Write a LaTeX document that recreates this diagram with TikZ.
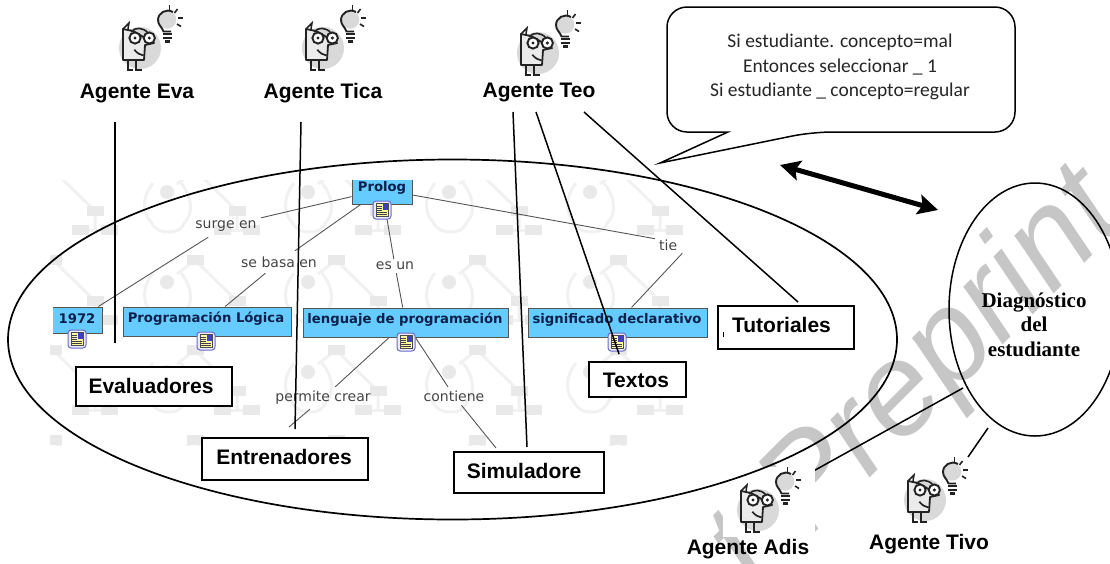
\documentclass[tikz,border=0pt]{standalone}
\usepackage{fontspec}
\usetikzlibrary{arrows.meta}
\setmainfont{Liberation Sans}
\newfontfamily\serfont{Liberation Serif}
\newfontfamily\calfont{Carlito}
\newfontfamily\mapfont{DejaVu Sans}
\definecolor{wmgray}{HTML}{C6C6C6}
\definecolor{tilegray}{HTML}{E9E9E9}
\definecolor{tileline}{HTML}{F1F1F1}
\definecolor{mapblue}{HTML}{66CCFF}
\definecolor{mapink}{HTML}{0A1F4A}
\definecolor{linkgray}{HTML}{555555}
\definecolor{labelgray}{HTML}{444444}
\definecolor{iconink}{HTML}{222222}
\definecolor{icongray}{HTML}{D9D9D9}
\tikzset{
  x=1pt,y=-1pt,
  agentlabel/.style={inner sep=0pt,font=\fontsize{21}{24}\selectfont\bfseries,text=black},
  workbox/.style={draw=black,line width=1.6pt,fill=white,inner sep=0pt,anchor=north west},
  boxtext/.style={inner sep=0pt,font=\fontsize{21}{24}\selectfont\bfseries},
  concept/.style={draw=linkgray,line width=1pt,fill=mapblue,inner sep=0pt},
  concepttext/.style={inner sep=0pt,text=mapink,font=\mapfont\fontsize{13.2}{15}\selectfont\bfseries},
  linklabel/.style={inner sep=0pt,text=labelgray,font=\mapfont\fontsize{14}{16}\selectfont},
  maplink/.style={draw=linkgray,line width=0.9pt},
  bigline/.style={draw=black,line width=1.5pt},
  tile/.pic={
    \fill[tilegray] (0,0) circle[radius=7pt];
    \draw[tileline,line width=3pt] (-14,-9) .. controls (-26,6) and (-24,22) .. (-16,30) .. controls (-12,38) and (-6,40) .. (2,40) .. controls (10,40) and (14,38) .. (18,30) .. controls (26,22) and (26,6) .. (14,-9);
    \draw[tileline,line width=3pt] (10,-8) -- (28,-22) -- (70,19) -- (70,38);
    \draw[tileline,line width=3pt] (55,38) -- (84,38);
    \fill[tilegray] (19.5,-27) rectangle (36.5,-17);
    \fill[tilegray] (61.5,14) rectangle (78.5,24);
    \fill[tilegray] (46.5,33) rectangle (63.5,43);
    \fill[tilegray] (75.5,33) rectangle (92.5,43);
  },
  agenticon/.pic={
    \fill[icongray] (0,0) circle[radius=21pt];
    \draw[iconink,line width=1.8pt,fill=black!8,line join=round] (-17,12) -- (-17,-19) -- (-7,-17) -- (14,-5) -- (5,-3) -- (4,12) -- cycle;
    \draw[iconink,line width=1.5pt] (-17,-19) -- (-11,-25) -- (-12,-19);
    \draw[iconink,line width=1.6pt] (-9,-16) .. controls (-5,-21) and (3,-21) .. (8,-15);
    \draw[iconink,line width=1.9pt,fill=white] (-5,-10) circle[radius=5.6pt];
    \draw[iconink,line width=1.9pt,fill=white] (9.3,-10) circle[radius=5.6pt];
    \fill[iconink] (-5,-10) circle[radius=1.7pt];
    \fill[iconink] (9.3,-10) circle[radius=1.7pt];
    \draw[iconink,line width=1.7pt] (-5.7,1.7) .. controls (-3,5) and (0,7) .. (3.5,7.5);
    \draw[iconink,line width=1.8pt] (-12,12) -- (-12,22) -- (-7,22);
    \draw[iconink,line width=1.8pt] (-4,12) -- (-4,22) -- (2,22);
    \fill[icongray] (27.3,-28.3) circle[radius=9pt];
    \draw[iconink,line width=1.9pt] (33,-36) .. controls (26,-40) and (18,-35) .. (18,-28) .. controls (18,-23) and (22,-21) .. (23.5,-16.5) -- (31,-16.5);
    \fill[iconink] (22.5,-15) rectangle (32,-12.8);
    \fill[iconink] (23,-11.5) rectangle (31.5,-9.3);
    \fill[iconink] (25,-8) rectangle (29.5,-5.5);
    \draw[iconink,line width=1.6pt] (29.3,-43) -- (29.3,-38.5);
    \draw[iconink,line width=1.6pt] (34.5,-35) -- (37.5,-39);
    \draw[iconink,line width=1.6pt] (38,-30) -- (43,-30);
    \draw[iconink,line width=1.6pt] (37,-24) -- (41,-21.5);
  },
  docicon/.pic={
    \draw[draw=blue!45!gray!80,line width=1pt,fill=blue!8,rounded corners=3pt] (-9,-9) rectangle (9,9);
    \fill[yellow!35!white,draw=black!70,line width=0.5pt] (-6,-6.5) rectangle (6,6.5);
    \fill[blue!50!gray] (0.5,-6) rectangle (5.5,-0.5);
    \foreach \ly in {-4,-2,0} {\draw[black!75,line width=0.7pt] (-5,\ly) -- (-0.5,\ly);}
    \foreach \ly in {2,4} {\draw[black!75,line width=0.7pt] (-5,\ly) -- (5,\ly);}
  }
}
\begin{document}
\begin{tikzpicture}
\useasboundingbox (0,0) rectangle (1110,563);
\begin{scope}
\clip (0,0) rectangle (1110,563);
% watermark
\node[rotate=45,anchor=base west,inner sep=0pt,text=wmgray,font=\fontsize{130}{130}\selectfont\itshape] (wm) at (756,592) {t Preprint};
% faint map background
\begin{scope}
\clip (50,180) rectangle (720,445);
\foreach \hy in {192,282,372,462} {
  \foreach \hx in {25,167,308,449,590} {
    \pic at (\hx,\hy) {tile};
  }
}
\end{scope}
% named end points
\coordinate (evaTop) at (115,122);
\coordinate (evaEnd) at (115,343);
\coordinate (ticaTop) at (301,122);
\coordinate (ticaEnd) at (295,429);
\coordinate (teoA) at (513,112);
\coordinate (teoAEnd) at (527,447);
\coordinate (teoB) at (536,112);
\coordinate (teoBEnd) at (619,354);
\coordinate (teoC) at (584,112);
\coordinate (teoCEnd) at (798,302);
\coordinate (adisFrom) at (963,388);
\coordinate (adisEnd) at (790,484);
\coordinate (tivoFrom) at (988,428);
\coordinate (tivoEnd) at (968,457);
\coordinate (arrowA) at (780,165);
\coordinate (arrowB) at (938,210);
\coordinate (permEnd) at (289,427);
\coordinate (contEnd) at (496,448);
% line under Adis patch
\draw[bigline] (adisFrom) -- (adisEnd);
\fill[white] (723,467) rectangle (815,537);
% main ellipse
\draw[bigline,line width=1.7pt] (452.5,339.5) circle[x radius=444.5pt,y radius=180pt];
% diagnostic ellipse
\draw[bigline] (1035,309.5) circle[x radius=86pt,y radius=126.5pt];
% concept nodes
\begin{scope}
\clip (300,180) rectangle (460,260);
\node[concept,minimum width=60pt,minimum height=29pt] (prolog) at (382,189.5) {};
\end{scope}
\begin{scope}
\clip (53,290) rectangle (120,350);
\node[concept,minimum width=50pt,minimum height=26pt] (y1972) at (77,320) {};
\end{scope}
\node[concept,minimum width=168pt,minimum height=29pt] (proglog) at (207,321.5) {};
\node[concept,minimum width=205pt,minimum height=29pt] (lenguaje) at (405.5,322.5) {};
\node[concept,minimum width=179pt,minimum height=29pt] (signif) at (617.5,322.5) {};
% link labels
\node[minimum width=70pt,minimum height=22pt,inner sep=0pt] (surge) at (226,226) {};
\node[minimum width=80pt,minimum height=22pt,inner sep=0pt] (sebasa) at (279,262) {};
\node[minimum width=38pt,minimum height=14pt,inner sep=0pt] (esun) at (395,266) {};
\node[minimum width=70pt,minimum height=16pt,inner sep=0pt] (tiene) at (690,245) {};
\node[minimum width=100pt,minimum height=22pt,inner sep=0pt] (permite) at (323,398) {};
\node[minimum width=64pt,minimum height=18pt,inner sep=0pt] (contiene) at (454,396) {};
% map links
\draw[maplink] (prolog) -- (surge);
\draw[maplink] (surge) -- (y1972);
\draw[maplink] (prolog) -- (sebasa);
\draw[maplink] (sebasa) -- (proglog);
\draw[maplink] (prolog) -- (esun);
\draw[maplink] (esun) -- (lenguaje);
\draw[maplink] (prolog) -- (tiene);
\draw[maplink] (tiene) -- (signif);
\draw[maplink] (lenguaje) -- (permite);
\draw[maplink] (permite) -- (permEnd);
\draw[maplink] (lenguaje) -- (contiene);
\draw[maplink] (contiene) -- (contEnd);
% concept texts
\node[concepttext] (prologT) at (382,188) {Prolog};
\node[concepttext] (y1972T) at (77,319) {1972};
\node[concepttext] (proglogT) at (206,319) {Programación Lógica};
\node[concepttext] (lenguajeT) at (405,320) {lenguaje de programación};
\node[concepttext] (signifT) at (617,320) {significado declarativo};
% doc icons
\pic at (382,210) {docicon};
\pic at (77,339) {docicon};
\pic at (206,341) {docicon};
\pic at (406,342) {docicon};
\pic at (617,342) {docicon};
% link label texts
\node[linklabel] (surgeT) at (226,226) {surge en};
\node[linklabel] (sebasaT) at (279,262) {se basa en};
\node[linklabel] (esunT) at (395,266) {es un};
\node[linklabel] (permiteT) at (323,398) {permite crear};
\node[linklabel] (contieneT) at (454,396) {contiene};
\begin{scope}
\clip (655,238) rectangle (676,249);
\node[linklabel,anchor=west] (tieT) at (659,245) {tiene};
\end{scope}
% long connectors
\draw[bigline] (evaTop) -- (evaEnd);
\draw[bigline] (ticaTop) -- (ticaEnd);
\draw[bigline] (teoA) -- (teoAEnd);
\draw[bigline] (teoB) -- (teoBEnd);
\draw[bigline] (teoC) -- (teoCEnd);
\draw[bigline] (tivoFrom) -- (tivoEnd);
\draw[line width=5pt,{Stealth[length=20pt,width=20pt,inset=4pt]}-{Stealth[length=20pt,width=20pt,inset=4pt]}] (arrowA) -- (arrowB);
% boxes
\node[workbox,minimum width=156pt,minimum height=39pt] (evaluadores) at (75,366) {};
\node[boxtext] (evaluadoresT) at (151,386) {Evaluadores};
\node[workbox,minimum width=166pt,minimum height=42pt] (entrenadores) at (201,437) {};
\node[boxtext] (entrenadoresT) at (284,457) {Entrenadores};
\node[workbox,minimum width=150pt,minimum height=41pt] (simuladore) at (453,451) {};
\node[boxtext] (simuladoreT) at (524,471) {Simuladore};
\node[workbox,minimum width=97pt,minimum height=35pt] (textos) at (588,361) {};
\node[boxtext] (textosT) at (636,380) {Textos};
\node[workbox,minimum width=136pt,minimum height=43pt] (tutoriales) at (717,305) {};
\node[boxtext] (tutorialesT) at (781.5,325) {Tutoriales};
\draw[black,line width=0.8pt] (723,332) -- (723,337);
% bubble
\draw[bigline,fill=white] (728,132) [rounded corners=20pt] -- (667,132) -- (667,7) -- (1015,7) -- (1015,132) -- (812,132) [sharp corners] -- (660,163) -- cycle;
\node[inner sep=0pt,align=center,text=black!85,font=\calfont\fontsize{19.5}{24.5}\selectfont] (bubbleT) at (840,67) {Si estudiante. concepto=mal\\Entonces seleccionar \_ 1\\Si estudiante \_ concepto=regular};
% diagnostic text
\node[inner sep=0pt,align=center,font=\serfont\fontsize{21}{24.5}\selectfont\bfseries] (diagT) at (1034,324.5) {Diagnóstico\\del\\estudiante};
% agents
\pic at (140,48) {agenticon};
\pic at (323,48) {agenticon};
\pic at (538,53) {agenticon};
\pic at (758,510) {agenticon};
\pic at (925,500) {agenticon};
\node[agentlabel] (eva) at (137,93) {Agente Eva};
\node[agentlabel] (tica) at (323,93) {Agente Tica};
\node[agentlabel] (teo) at (539,92) {Agente Teo};
\node[agentlabel] (adis) at (748,549) {Agente Adis};
\node[agentlabel] (tivo) at (929,544) {Agente Tivo};
\end{scope}
\end{tikzpicture}
\end{document}
